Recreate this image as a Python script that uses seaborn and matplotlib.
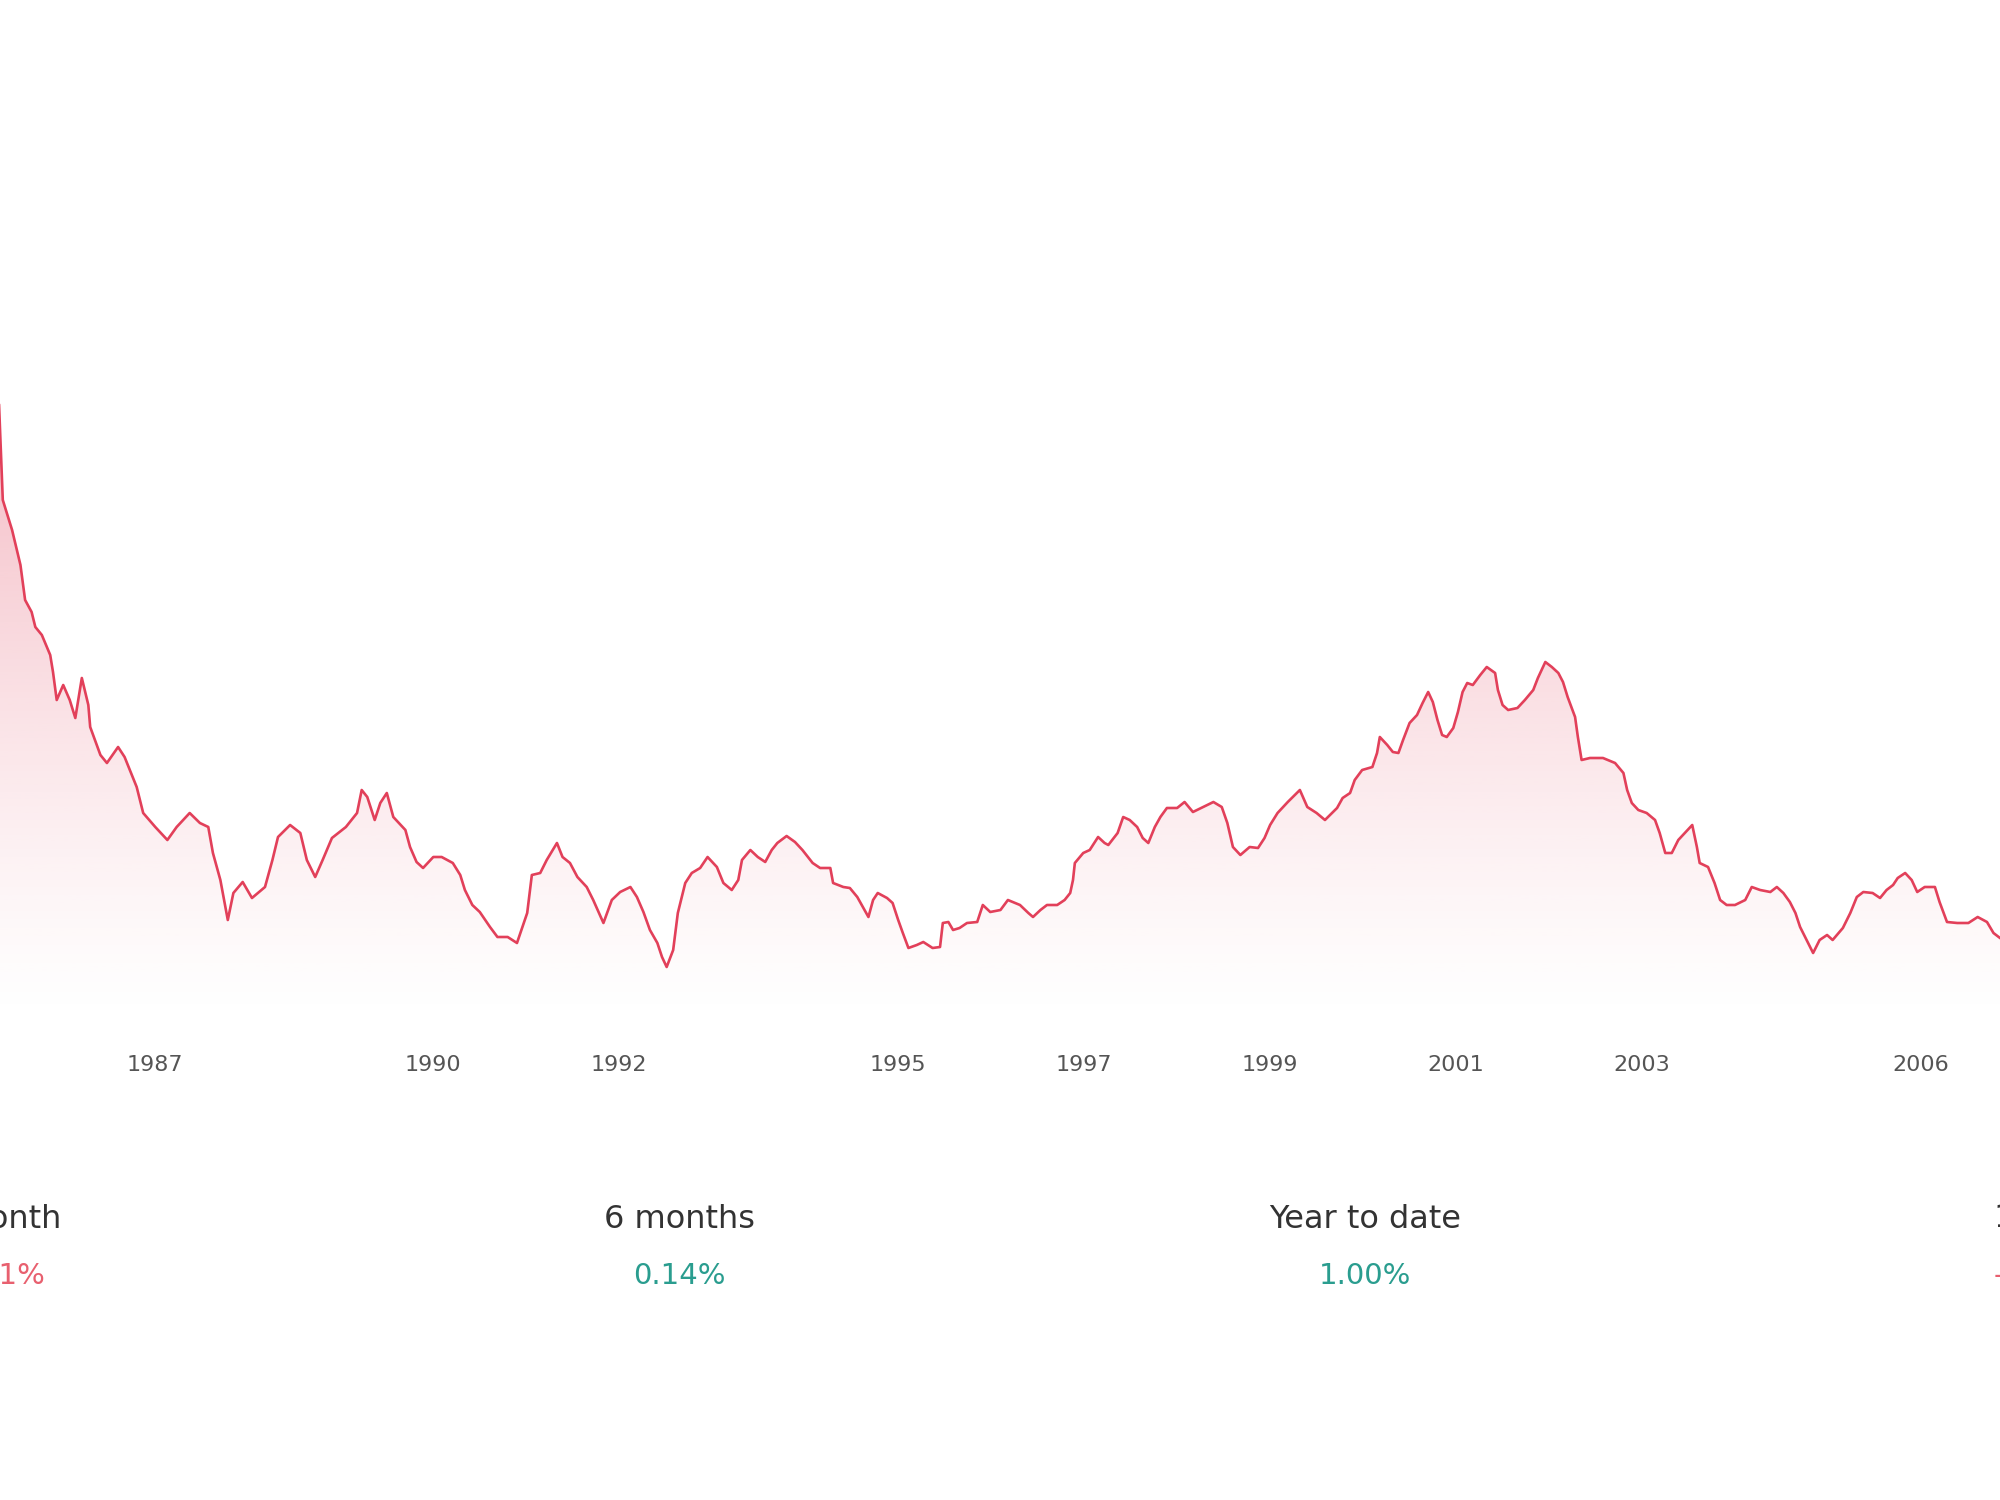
import numpy as np
import pandas as pd
import seaborn as sns
import matplotlib
matplotlib.use('Agg')
import matplotlib.pyplot as plt
from matplotlib.colors import to_rgb

# decimal year of each observation
years = [
    1985.20, 1985.33, 1985.37, 1985.47, 1985.56, 1985.61, 1985.68, 1985.72, 1985.79, 1985.88, 1985.91,
    1985.95, 1986.02, 1986.09, 1986.15, 1986.22, 1986.29, 1986.31, 1986.42, 1986.49, 1986.61,
    1986.68, 1986.81, 1986.88, 1987.01, 1987.14, 1987.24, 1987.38, 1987.49, 1987.58, 1987.63,
    1987.71, 1987.79, 1987.85, 1987.95, 1988.05, 1988.19, 1988.27, 1988.33, 1988.46, 1988.57,
    1988.64, 1988.73, 1988.81, 1988.91, 1989.06, 1989.18, 1989.23, 1989.29, 1989.37, 1989.43,
    1989.50, 1989.57, 1989.70, 1989.75, 1989.82, 1989.89, 1990.00, 1990.09, 1990.21, 1990.29,
    1990.34, 1990.42, 1990.50, 1990.61, 1990.69, 1990.80, 1990.90, 1991.01, 1991.06, 1991.15,
    1991.22, 1991.33, 1991.39, 1991.47, 1991.55, 1991.65, 1991.72, 1991.83, 1991.92, 1992.01,
    1992.12, 1992.19, 1992.26, 1992.33, 1992.41, 1992.46, 1992.51, 1992.58, 1992.63, 1992.71,
    1992.78, 1992.87, 1992.95, 1993.05, 1993.12, 1993.21, 1993.28, 1993.32, 1993.41, 1993.49,
    1993.57, 1993.64, 1993.70, 1993.80, 1993.89, 1993.97, 1994.08, 1994.16, 1994.27, 1994.30,
    1994.41, 1994.48, 1994.56, 1994.62, 1994.68, 1994.73, 1994.78, 1994.88, 1994.94, 1995.00,
    1995.05, 1995.11, 1995.20, 1995.27, 1995.37, 1995.45, 1995.48, 1995.54, 1995.59, 1995.66,
    1995.74, 1995.85, 1995.91, 1995.99, 1996.10, 1996.18, 1996.31, 1996.40, 1996.45, 1996.53,
    1996.60, 1996.71, 1996.79, 1996.85, 1996.88, 1996.90, 1996.99, 1997.06, 1997.15, 1997.22,
    1997.26, 1997.36, 1997.42, 1997.49, 1997.57, 1997.63, 1997.69, 1997.76, 1997.82, 1997.89,
    1998.00, 1998.08, 1998.17, 1998.28, 1998.39, 1998.48, 1998.54, 1998.60, 1998.68, 1998.78,
    1998.87, 1998.94, 1999.00, 1999.08, 1999.19, 1999.32, 1999.40, 1999.50, 1999.59, 1999.72,
    1999.78, 1999.86, 1999.91, 1999.99, 2000.10, 2000.15, 2000.18, 2000.26, 2000.32, 2000.38,
    2000.43, 2000.50, 2000.58, 2000.64, 2000.70, 2000.75, 2000.80, 2000.85, 2000.90, 2000.97,
    2001.02, 2001.07, 2001.12, 2001.18, 2001.26, 2001.33, 2001.42, 2001.45, 2001.50, 2001.56,
    2001.66, 2001.74, 2001.83, 2001.88, 2001.96, 2002.03, 2002.10, 2002.15, 2002.20, 2002.28,
    2002.31, 2002.35, 2002.44, 2002.58, 2002.71, 2002.80, 2002.84, 2002.89, 2002.96, 2003.05,
    2003.14, 2003.19, 2003.25, 2003.32, 2003.39, 2003.46, 2003.54, 2003.59, 2003.62, 2003.71,
    2003.78, 2003.84, 2003.91, 2004.00, 2004.11, 2004.18, 2004.27, 2004.38, 2004.45, 2004.52,
    2004.59, 2004.65, 2004.70, 2004.77, 2004.84, 2004.91, 2004.99, 2005.05, 2005.16, 2005.24,
    2005.31, 2005.38, 2005.48, 2005.56, 2005.63, 2005.70, 2005.75, 2005.83, 2005.90, 2005.96,
    2006.04, 2006.15, 2006.20, 2006.28, 2006.39, 2006.51, 2006.61, 2006.71, 2006.78, 2006.85,
    2006.98,
]

values = [
    16.50, 13.90, 12.00, 11.40, 10.70, 10.00, 9.76, 9.46, 9.30, 8.90, 8.56,
    8.00, 8.30, 8.00, 7.64, 8.44, 7.90, 7.46, 6.90, 6.74, 7.06,
    6.86, 6.26, 5.74, 5.46, 5.20, 5.46, 5.74, 5.54, 5.46, 4.94,
    4.40, 3.60, 4.14, 4.36, 4.04, 4.26, 4.80, 5.26, 5.50, 5.34,
    4.80, 4.46, 4.80, 5.24, 5.46, 5.74, 6.20, 6.06, 5.60, 5.94,
    6.14, 5.66, 5.40, 5.06, 4.76, 4.64, 4.86, 4.86, 4.74, 4.50,
    4.20, 3.90, 3.76, 3.46, 3.26, 3.26, 3.14, 3.74, 4.50, 4.54,
    4.80, 5.14, 4.86, 4.74, 4.46, 4.26, 4.00, 3.54, 4.00, 4.16,
    4.26, 4.06, 3.76, 3.40, 3.14, 2.86, 2.66, 3.00, 3.74, 4.34,
    4.54, 4.64, 4.86, 4.66, 4.34, 4.20, 4.40, 4.80, 5.00, 4.86,
    4.76, 5.00, 5.14, 5.28, 5.16, 5.00, 4.74, 4.64, 4.64, 4.34,
    4.26, 4.24, 4.06, 3.86, 3.66, 4.00, 4.14, 4.04, 3.94, 3.60,
    3.34, 3.04, 3.10, 3.16, 3.04, 3.06, 3.54, 3.56, 3.40, 3.44,
    3.54, 3.56, 3.90, 3.76, 3.80, 4.00, 3.90, 3.74, 3.66, 3.80,
    3.90, 3.90, 4.00, 4.14, 4.40, 4.74, 4.94, 5.00, 5.26, 5.14,
    5.10, 5.34, 5.66, 5.60, 5.46, 5.24, 5.14, 5.46, 5.66, 5.84,
    5.84, 5.96, 5.76, 5.86, 5.96, 5.86, 5.54, 5.06, 4.90, 5.06,
    5.04, 5.24, 5.50, 5.74, 5.96, 6.20, 5.86, 5.74, 5.60, 5.84,
    6.04, 6.14, 6.40, 6.60, 6.66, 6.94, 7.26, 7.10, 6.96, 6.94,
    7.20, 7.54, 7.70, 7.94, 8.16, 7.96, 7.60, 7.30, 7.26, 7.44,
    7.76, 8.16, 8.34, 8.30, 8.50, 8.66, 8.54, 8.20, 7.90, 7.80,
    7.84, 8.00, 8.20, 8.44, 8.76, 8.66, 8.54, 8.36, 8.06, 7.66,
    7.26, 6.80, 6.84, 6.84, 6.74, 6.54, 6.20, 5.94, 5.80, 5.74,
    5.60, 5.34, 4.94, 4.94, 5.20, 5.34, 5.50, 5.06, 4.74, 4.66,
    4.34, 4.00, 3.90, 3.90, 4.00, 4.26, 4.20, 4.16, 4.26, 4.14,
    3.96, 3.74, 3.46, 3.20, 2.94, 3.20, 3.30, 3.20, 3.44, 3.74,
    4.06, 4.16, 4.14, 4.04, 4.20, 4.30, 4.44, 4.54, 4.40, 4.16,
    4.26, 4.26, 3.96, 3.56, 3.54, 3.54, 3.66, 3.56, 3.34, 3.24,
    3.10,
]

tick_years = [1987, 1990, 1992, 1995, 1997, 1999, 2001, 2003, 2006]
tick_labels = ['1987', '1990', '1992', '1995', '1997', '1999', '2001', '2003', '2006']

stat_labels = ['1 month', '6 months', 'Year to date', '1 year']
stat_values = ['-0.61%', '0.14%', '1.00%', '-0.50%']
stat_colors = ['#e8606f', '#2a9d8f', '#2a9d8f', '#e8606f']

LINE_COLOR = '#e2405a'

df = pd.DataFrame({'year': years, 'value': values})

sns.set_theme(style='white')
plt.rcParams['font.family'] = ['DejaVu Sans']

fig = plt.figure(figsize=(20, 15), dpi=100)
fig.patch.set_facecolor('white')
ax = fig.add_axes([0.0, 0.32, 1.0, 0.68])
ax.set_facecolor('white')

x_lo, x_hi = 1985.34, 2006.85
y_lo, y_hi = 1.6, 22.0

# gradient area under the line
poly = ax.fill_between(df['year'], df['value'], y_lo, color='none', lw=0)
rgb = to_rgb(LINE_COLOR)
grad = np.zeros((256, 2, 4))
grad[:, :, 0], grad[:, :, 1], grad[:, :, 2] = rgb
ys = np.linspace(y_lo, y_hi, 256)
alpha = np.clip((ys - y_lo) / (13.0 - y_lo), 0, 1) ** 1.2 * 0.32
grad[:, :, 3] = alpha[:, None]
im = ax.imshow(grad, extent=[x_lo - 1, x_hi + 1, y_lo, y_hi], origin='lower',
               aspect='auto', interpolation='bicubic', zorder=1)
im.set_clip_path(poly.get_paths()[0], transform=ax.transData)

sns.lineplot(data=df, x='year', y='value', ax=ax, color=LINE_COLOR,
             linewidth=1.9, zorder=3, estimator=None, sort=False)

ax.set_xlim(x_lo, x_hi)
ax.set_ylim(y_lo, y_hi)
ax.set_xticks(tick_years)
ax.set_xticklabels(tick_labels)
ax.set_yticks([])
ax.set_xlabel('')
ax.set_ylabel('')
ax.tick_params(axis='x', length=0, pad=25.5, labelsize=16, labelcolor='#555555')
sns.despine(ax=ax, left=True, bottom=True)

# summary figures below the chart
centers = [-0.003, 0.3395, 0.6825, 1.0225]
for cx, lab, val, col in zip(centers, stat_labels, stat_values, stat_colors):
    fig.text(cx, 1 - 1219 / 1500, lab, ha='center', va='center', fontsize=23, color='#333333')
    fig.text(cx, 1 - 1276 / 1500, val, ha='center', va='center', fontsize=21, color=col)

fig.savefig('out.png', dpi=100, facecolor='white')
